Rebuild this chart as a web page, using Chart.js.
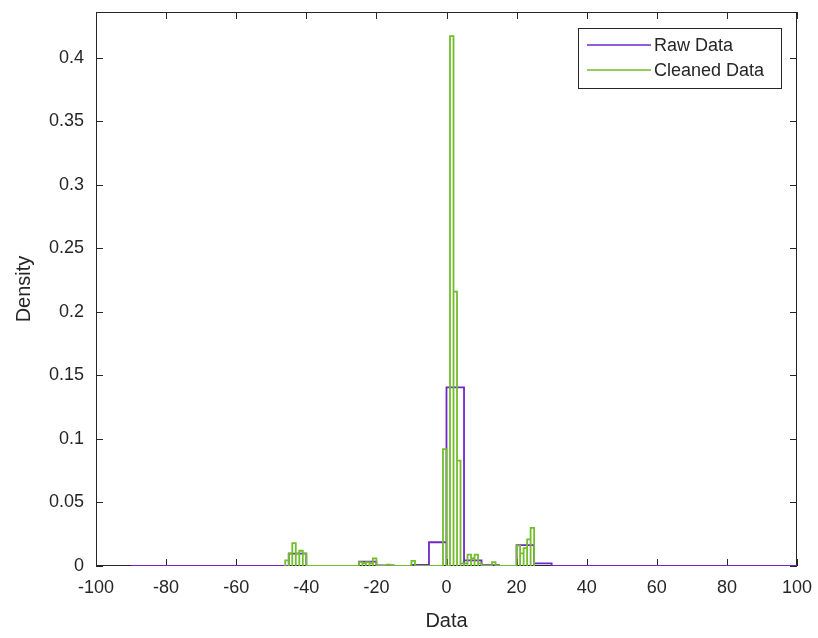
<!DOCTYPE html>
<html><head><meta charset="utf-8">
<script src="https://cdn.jsdelivr.net/npm/chart.js@4"></script>
<style>html,body{margin:0;padding:0;background:#fff}#wrap{width:818px;height:638px}</style>
</head><body>
<div id="wrap"><canvas id="c" width="818" height="638"></canvas></div>
<script>
// ---- data ----
const rawEdges = [-90,-85,-80,-75,-70,-65,-60,-55,-50,-45,-40,-35,-30,-25,-20,-15,-10,-5,0,5,10,15,20,25,30,35,40,45,50,55,60,65,70,75,80,85,90,95,100];
const rawDensity = [0,0,0,0,0,0,0,0,0, 0.0098, 0,0,0, 0.0035, 0.0005, 0, 0.0008, 0.0187, 0.1405, 0.0045, 0.0006, 0, 0.0165, 0.002, 0,0,0,0,0,0,0,0,0,0,0,0,0,0];
const cleanedEdges = [-46,-45,-44,-43,-42,-41,-40,-39,-38,-37,-36,-35,-34,-33,-32,-31,-30,-29,-28,-27,-26,-25,-24,-23,-22,-21,-20,-19,-18,-17,-16,-15,-14,-13,-12,-11,-10,-9,-8,-7,-6,-5,-4,-3,-2,-1,0,1,2,3,4,5,6,7,8,9,10,11,12,13,14,15,16,17,18,19,20,21,22,23,24,25];
const cleanedDensity = [
  0.0045, 0.010, 0.018, 0.010, 0.012, 0.010,          // -46 .. -41
  0,0,0,0,0,0,0,0,0,0,0,0,0,0,0,                      // -40 .. -26
  0.003, 0.002, 0.003, 0.002, 0.006,                  // -25 .. -21
  0, 0, 0, 0.001, 0,0,0,0,0,0,                        // -20 .. -11
  0.004, 0,0,0,0,0,0,0,0,                             // -10 .. -2
  0.092, 0, 0.417, 0.216, 0.083, 0.002,               // -1 .. 4
  0.002, 0.009, 0.006, 0.009, 0.002,                  // 5 .. 9
  0, 0, 0, 0.003, 0,0,0,0,0,0,                        // 10 .. 19
  0.016, 0.010, 0.014, 0.021, 0.030                   // 20 .. 24
];
const xTicks = [-100,-80,-60,-40,-20,0,20,40,60,80,100];
const yTicks = [0,0.05,0.1,0.15,0.2,0.25,0.3,0.35,0.4];
const seriesNames = ['Raw Data','Cleaned Data'];

// ---- styles ----
const PURPLE = '#7126c8';
const GREEN = '#72bd2c';
const AXIS = '#262626';
const FONT = '"Liberation Sans", Arial, Helvetica, sans-serif';

function outline(edges, vals){
  const pts = [{x:edges[0], y:0}];
  for (let i = 0; i < vals.length; i++) {
    const a = edges[i], b = edges[i+1], v = vals[i];
    if (v > 0) pts.push({x:a,y:0},{x:a,y:v},{x:b,y:v},{x:b,y:0});
  }
  pts.push({x:edges[edges.length-1], y:0});
  return pts;
}

const framePlugin = {
  id: 'frame',
  beforeDatasetsDraw(chart){
    const {ctx, chartArea:a, scales:{x, y}} = chart;
    ctx.save();
    ctx.strokeStyle = AXIS; ctx.lineWidth = 1;
    ctx.strokeRect(a.left+0.5, a.top+0.5, a.right-a.left-1, a.bottom-a.top-1);
    const L = 7;
    ctx.beginPath();
    xTicks.forEach(v => {
      const px = Math.round(x.getPixelForValue(v)) + 0.5;
      ctx.moveTo(px, a.bottom); ctx.lineTo(px, a.bottom - L);
      ctx.moveTo(px, a.top); ctx.lineTo(px, a.top + L);
    });
    yTicks.forEach(v => {
      const py = Math.round(y.getPixelForValue(v)) + 0.5;
      ctx.moveTo(a.left, py); ctx.lineTo(a.left + L, py);
      ctx.moveTo(a.right, py); ctx.lineTo(a.right - L, py);
    });
    ctx.stroke();
    ctx.restore();
  },
  afterDraw(chart){
    const {ctx} = chart;
    const bx = 578.5, by = 28.5, bw = 203, bh = 60;
    ctx.save();
    ctx.fillStyle = '#fff';
    ctx.fillRect(bx, by, bw, bh);
    ctx.strokeStyle = AXIS; ctx.lineWidth = 1;
    ctx.strokeRect(bx, by, bw, bh);
    ctx.font = '18px ' + FONT;
    ctx.textBaseline = 'middle';
    ctx.textAlign = 'left';
    const rows = [45, 70];
    chart.data.datasets.slice().sort((p,q)=>p.legendIndex-q.legendIndex).forEach((ds, i) => {
      const yy = rows[i];
      ctx.strokeStyle = ds.borderColor; ctx.lineWidth = 1.5;
      ctx.beginPath(); ctx.moveTo(587, yy); ctx.lineTo(651, yy); ctx.stroke();
      ctx.fillStyle = AXIS;
      ctx.fillText(ds.label, 654, yy + 1);
    });
    ctx.restore();
  }
};

new Chart(document.getElementById('c'), {
  type: 'scatter',
  data: {
    datasets: [
      { label: seriesNames[0], legendIndex: 0, data: outline(rawEdges, rawDensity), showLine: true,
        borderColor: PURPLE, borderWidth: 1.8, pointRadius: 0, tension: 0, order: 2, fill: false },
      { label: seriesNames[1], legendIndex: 1, data: outline(cleanedEdges, cleanedDensity), showLine: true,
        borderColor: GREEN, borderWidth: 1.8, pointRadius: 0, tension: 0, order: 1, fill: false }
    ]
  },
  options: {
    responsive: false, animation: false, devicePixelRatio: 1,
    layout: { padding: { top: 12, right: 21, left: 0, bottom: 0 } },
    plugins: { legend: { display: false }, tooltip: { enabled: false } },
    elements: { line: { borderJoinStyle: 'miter' } },
    scales: {
      x: {
        type: 'linear', min: -100, max: 100,
        afterBuildTicks: s => { s.ticks = xTicks.map(v => ({value: v})); },
        afterFit: s => { s.height = 72; s.paddingLeft = 0; s.paddingRight = 0; },
        grid: { display: false }, border: { display: false },
        ticks: { color: AXIS, font: { family: FONT, size: 18 }, padding: 3, maxRotation: 0, autoSkip: false,
                 callback: v => String(v) },
        title: { display: true, text: 'Data', color: AXIS, font: { family: FONT, size: 20 }, padding: { bottom: 5 } }
      },
      y: {
        type: 'linear', min: 0, max: 0.436,
        afterBuildTicks: s => { s.ticks = yTicks.map(v => ({value: v})); },
        afterFit: s => { s.width = 96; s.paddingTop = 0; s.paddingBottom = 0; },
        grid: { display: false }, border: { display: false },
        ticks: { color: AXIS, font: { family: FONT, size: 18 }, padding: 4, autoSkip: false,
                 callback: v => String(+v.toFixed(2)) },
        title: { display: true, text: 'Density', color: AXIS, font: { family: FONT, size: 20 }, padding: { top: 12 } }
      }
    }
  },
  plugins: [framePlugin]
});
</script>
</body></html>
